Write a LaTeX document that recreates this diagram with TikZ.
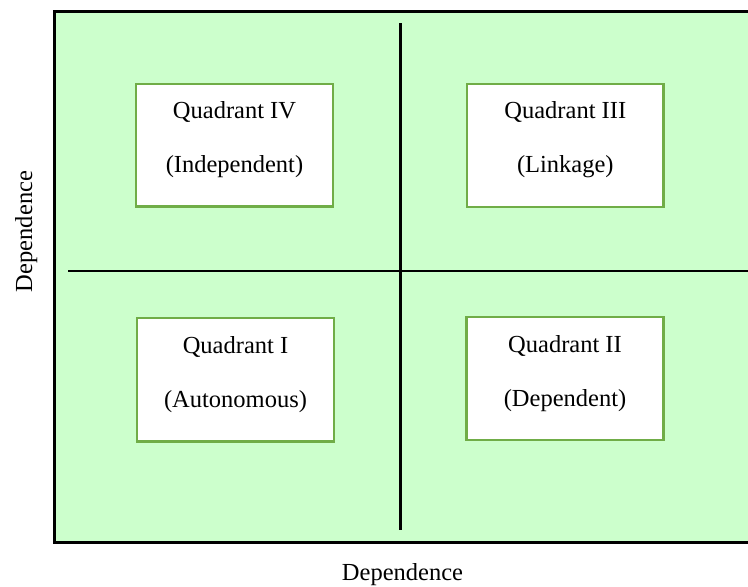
\documentclass[tikz,border=0pt]{standalone}
\usepackage{fontspec}
\setmainfont{Liberation Serif}
\definecolor{bgreen}{HTML}{CCFFCC}
\definecolor{boxedge}{HTML}{70AD47}
\begin{document}
\begin{tikzpicture}[x=1pt,y=-1pt,
  quad/.style={draw=boxedge,line width=2.5pt,fill=white},
  lbl/.style={anchor=base,inner sep=0pt,font=\fontsize{24.5}{26}\selectfont},
  axis/.style={line width=2.6pt,black}]
\useasboundingbox (0,0) rectangle (748,587);
\clip (0,0) rectangle (748,587);
\fill[bgreen] (54.7,11.2) rectangle (760,542.2);
\draw[line width=2.6pt] (760,11.2) -- (54.7,11.2) -- (54.7,542.2) -- (760,542.2);
% axes
\coordinate (vtop) at (400.3,23);
\coordinate (vbot) at (400.3,530);
\coordinate (hl) at (68,271);
\coordinate (hr) at (760,271);
\draw[axis] (vtop) -- (vbot);
\draw[axis] (hl) -- (hr);
% boxes
\draw[quad] (136,84) rectangle (333,206.5);
\draw[quad] (467,84) rectangle (663.5,207);
\draw[quad] (137,318) rectangle (334,441.5);
\draw[quad] (466.5,317) rectangle (663.5,440);
% texts
\node[lbl] (q4a) at (234.5,118) {Quadrant IV};
\node[lbl] (q4b) at (234.5,172) {(Independent)};
\node[lbl] (q3a) at (565.3,118) {Quadrant III};
\node[lbl] (q3b) at (565.3,172) {(Linkage)};
\node[lbl] (q1a) at (235.5,353) {Quadrant I};
\node[lbl] (q1b) at (235.5,407) {(Autonomous)};
\node[lbl] (q2a) at (565,352.7) {Quadrant II};
\node[lbl] (q2b) at (565,406) {(Dependent)};
\node[lbl] (xlab) at (402.5,580) {Dependence};
\node[lbl,rotate=90] (ylab) at (32,231.5) {Dependence};
\end{tikzpicture}
\end{document}
